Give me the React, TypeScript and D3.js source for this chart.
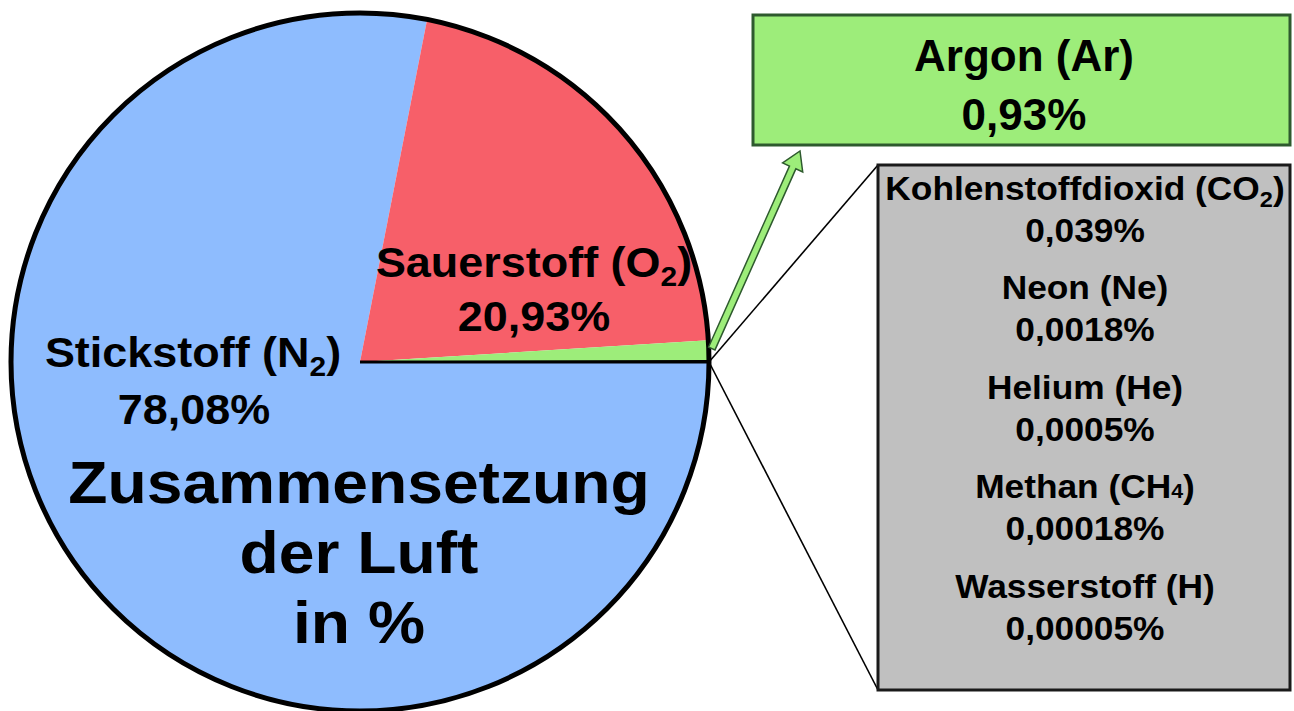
import * as d3 from 'd3'

// Zusammensetzung der Luft (Volumenprozent)
const mainNames = ['Stickstoff', 'Sauerstoff', 'Argon', 'Rest']
const mainValues = [78.08, 20.93, 0.93, 0.06]
const mainColors = ['#8ebcfe', '#f75f69', '#9ded7a', '#000000']

// Spurengase in der grauen Box
const traceNames = ['Kohlenstoffdioxid (CO', 'Neon (Ne)', 'Helium (He)', 'Methan (CH', 'Wasserstoff (H)']
const traceSubs = ['2', '', '', '4', '']
const traceValues = ['0,039%', '0,0018%', '0,0005%', '0,00018%', '0,00005%']

const W = 1294
const H = 711
const cx = 360
const cy = 362
const R = 349

const FONT = '"Liberation Sans", Arial, sans-serif'

const App = () => {
  const data = mainNames.map((name, i) => ({ name, value: mainValues[i], color: mainColors[i] }))

  const pie = d3.pie<{ name: string; value: number; color: string }>()
    .sort(null)
    .value(d => d.value)
    .startAngle(Math.PI / 2)
    .endAngle(Math.PI / 2 + 2 * Math.PI)

  const arcs = pie(data)
  const arc = d3.arc<d3.PieArcDatum<{ name: string; value: number; color: string }>>()
    .innerRadius(0)
    .outerRadius(R)

  // point on the rim at 3 o'clock where the zoom lines start
  const rimX = cx + R
  const rimY = cy

  // green arrow from the argon slice to the argon box
  const argon = arcs[2]
  const argMid = (argon.startAngle + argon.endAngle) / 2
  const ax0 = cx + R * Math.sin(argMid) + 3
  const ay0 = cy - R * Math.cos(argMid) - 2
  const ax1 = 800
  const ay1 = 151
  const len = Math.hypot(ax1 - ax0, ay1 - ay0)
  const ux = (ax1 - ax0) / len
  const uy = (ay1 - ay0) / len
  const px = -uy
  const py = ux
  const sw = 3.5
  const hw = 11
  const hl = 18
  const bx = ax1 - ux * hl
  const by = ay1 - uy * hl
  const arrowPts = [
    [ax0 + px * sw, ay0 + py * sw],
    [bx + px * sw, by + py * sw],
    [bx + px * hw, by + py * hw],
    [ax1, ay1],
    [bx - px * hw, by - py * hw],
    [bx - px * sw, by - py * sw],
    [ax0 - px * sw, ay0 - py * sw]
  ].map(p => p.join(',')).join(' ')

  const box = { x: 878, y: 165, w: 412, h: 525 }
  const argBox = { x: 753, y: 15, w: 537, h: 130 }

  return (
    <svg width={W} height={H} style={{ position: 'absolute', left: 0, top: 0, fontFamily: FONT }}>
      <rect width={W} height={H} fill="#fff" />

      {/* zoom lines */}
      <line x1={rimX} y1={rimY} x2={box.x} y2={box.y} stroke="#000" strokeWidth={1.6} />
      <line x1={rimX} y1={rimY} x2={box.x} y2={box.y + box.h} stroke="#000" strokeWidth={1.6} />

      {/* pie */}
      <g transform={`translate(${cx},${cy})`}>
        {arcs.map((a, i) => (
          <path key={i} d={arc(a) || ''} fill={a.data.color}
            stroke={a.data.name === 'Rest' ? '#000' : 'none'} strokeWidth={1.5} />
        ))}
        <line x1={0} y1={0} x2={R} y2={0} stroke="#000" strokeWidth={3} />
        <circle r={R} fill="none" stroke="#000" strokeWidth={5} />
      </g>

      {/* arrow */}
      <polygon points={arrowPts} fill="#9ded7a" stroke="#2e5a2e" strokeWidth={1.5} strokeLinejoin="miter" />

      {/* argon box */}
      <rect x={argBox.x} y={argBox.y} width={argBox.w} height={argBox.h} fill="#9ded7a" stroke="#2e5a2e" strokeWidth={3} />
      <g fontWeight="bold" fontSize={44} textAnchor="middle" fill="#000">
        <text x={1024} y={71}>Argon (Ar)</text>
        <text x={1024} y={130}>0,93%</text>
      </g>

      {/* trace gases box */}
      <rect x={box.x} y={box.y} width={box.w} height={box.h} fill="#c0c0c0" stroke="#1a1a1a" strokeWidth={3} />
      <g fontWeight="bold" fontSize={33} textAnchor="middle" fill="#000">
        {traceNames.map((n, i) => {
          const y = 200 + i * 99.5
          const sub = traceSubs[i]
          return (
            <g key={n}>
              <text x={1085} y={y} transform={`translate(1085,${y}) scale(1.07,1) translate(-1085,${-y})`}>
                {n}
                {sub === '2' && <tspan fontSize={22} dy={7}>2</tspan>}
                {sub === '2' && <tspan dy={-7}>)</tspan>}
                {sub === '4' && <tspan fontSize={20}>4</tspan>}
                {sub === '4' && <tspan>)</tspan>}
              </text>
              <text x={1085} y={y + 42} transform={`translate(1085,${y + 42}) scale(1.07,1) translate(-1085,${-(y + 42)})`}>
                {traceValues[i]}
              </text>
            </g>
          )
        })}
      </g>

      {/* slice labels */}
      <g fontWeight="bold" fontSize={42} textAnchor="middle" fill="#000">
        <text transform="translate(534,277) scale(1.07,1)">
          Sauerstoff (O<tspan fontSize={28} dy={9}>2</tspan><tspan dy={-9}>)</tspan>
        </text>
        <text transform="translate(534,331) scale(1.07,1)">20,93%</text>
        <text transform="translate(193,367) scale(1.07,1)">
          Stickstoff (N<tspan fontSize={28} dy={9}>2</tspan><tspan dy={-9}>)</tspan>
        </text>
        <text transform="translate(194,424) scale(1.07,1)">78,08%</text>
      </g>

      {/* title */}
      <g fontWeight="bold" fontSize={60} textAnchor="middle" fill="#000">
        <text transform="translate(359,503) scale(1.07,1)">Zusammensetzung</text>
        <text transform="translate(359,573) scale(1.07,1)">der Luft</text>
        <text transform="translate(359,643) scale(1.07,1)">in %</text>
      </g>
    </svg>
  )
}

export default App
